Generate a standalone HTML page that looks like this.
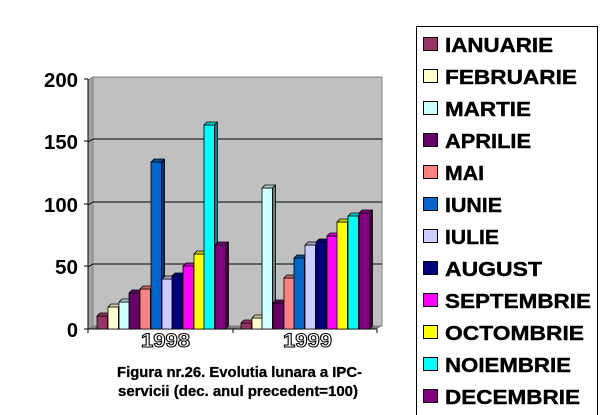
<!DOCTYPE html>
<html><head><meta charset="utf-8"><style>
html,body{margin:0;padding:0;background:#fff;}
svg{display:block;font-family:"Liberation Sans",Arial,sans-serif;}
</style></head><body>
<svg width="609" height="415" viewBox="0 0 609 415" xmlns="http://www.w3.org/2000/svg">
<polygon points="93,77 382,77 382,326 93,326" fill="#c0c0c0" stroke="#808080" stroke-width="1"/>
<polygon points="88,80 93,77 93,326 88,329" fill="#a0a0a0" stroke="#808080" stroke-width="1"/>
<polygon points="88,329 93,326 382,326 377,329" fill="#808080"/>
<g stroke="#000" stroke-width="1">
<line x1="93" y1="139" x2="382" y2="139"/><line x1="88" y1="142" x2="93" y2="139"/>
<line x1="93" y1="202" x2="382" y2="202"/><line x1="88" y1="205" x2="93" y2="202"/>
<line x1="93" y1="264" x2="382" y2="264"/><line x1="88" y1="267" x2="93" y2="264"/>
<line x1="88" y1="79" x2="88" y2="329"/>
<line x1="84" y1="79" x2="88" y2="79"/><line x1="84" y1="141" x2="88" y2="141"/>
<line x1="84" y1="204" x2="88" y2="204"/><line x1="84" y1="266" x2="88" y2="266"/>
<line x1="84" y1="329" x2="88" y2="329"/>
<line x1="88" y1="329" x2="377" y2="329"/>
<line x1="88" y1="329" x2="88" y2="333"/><line x1="233" y1="329" x2="233" y2="333"/><line x1="377" y1="329" x2="377" y2="333"/>
</g>
<g font-size="20" font-weight="bold" text-anchor="end">
<text x="78" y="87" textLength="34" lengthAdjust="spacingAndGlyphs">200</text>
<text x="78" y="149" textLength="34" lengthAdjust="spacingAndGlyphs">150</text>
<text x="78" y="212" textLength="34" lengthAdjust="spacingAndGlyphs">100</text>
<text x="78" y="274" textLength="23" lengthAdjust="spacingAndGlyphs">50</text>
<text x="78" y="337">0</text>
</g>
<g stroke="#000" stroke-width="0.8" stroke-linejoin="round">
<g fill="#993366"><rect x="97" y="316" width="10.5" height="13"/><polygon points="97,316 100,313 110.5,313 107.5,316"/><polygon points="107.5,316 110.5,313 110.5,326 107.5,329" fill="#4d1a33"/></g>
<g fill="#FFFFCC"><rect x="108" y="307" width="10.5" height="22"/><polygon points="108,307 111,304 121.5,304 118.5,307" fill="#cccca3"/><polygon points="118.5,307 121.5,304 121.5,326 118.5,329" fill="#808066"/></g>
<g fill="#CCFFFF"><rect x="119" y="302" width="10.5" height="27"/><polygon points="119,302 122,299 132.5,299 129.5,302" fill="#a3cccc"/><polygon points="129.5,302 132.5,299 132.5,326 129.5,329" fill="#668080"/></g>
<g fill="#660066"><rect x="129" y="293" width="10.5" height="36"/><polygon points="129,293 132,290 142.5,290 139.5,293"/><polygon points="139.5,293 142.5,290 142.5,326 139.5,329" fill="#330033"/></g>
<g fill="#FF8080"><rect x="140" y="289" width="10.5" height="40"/><polygon points="140,289 143,286 153.5,286 150.5,289" fill="#cc6666"/><polygon points="150.5,289 153.5,286 153.5,326 150.5,329" fill="#804040"/></g>
<g fill="#0066CC"><rect x="151" y="162" width="10.5" height="167"/><polygon points="151,162 154,159 164.5,159 161.5,162" fill="#0052a3"/><polygon points="161.5,162 164.5,159 164.5,326 161.5,329" fill="#003366"/></g>
<g fill="#CCCCFF"><rect x="162" y="279" width="10.5" height="50"/><polygon points="162,279 165,276 175.5,276 172.5,279" fill="#a3a3cc"/><polygon points="172.5,279 175.5,276 175.5,326 172.5,329" fill="#666680"/></g>
<g fill="#000080"><rect x="172" y="276" width="10.5" height="53"/><polygon points="172,276 175,273 185.5,273 182.5,276"/><polygon points="182.5,276 185.5,273 185.5,326 182.5,329" fill="#000040"/></g>
<g fill="#FF00FF"><rect x="183" y="266" width="10.5" height="63"/><polygon points="183,266 186,263 196.5,263 193.5,266" fill="#cc00cc"/><polygon points="193.5,266 196.5,263 196.5,326 193.5,329" fill="#800080"/></g>
<g fill="#FFFF00"><rect x="194" y="254" width="10.5" height="75"/><polygon points="194,254 197,251 207.5,251 204.5,254" fill="#cccc00"/><polygon points="204.5,254 207.5,251 207.5,326 204.5,329" fill="#808000"/></g>
<g fill="#00FFFF"><rect x="204" y="125" width="10.5" height="204"/><polygon points="204,125 207,122 217.5,122 214.5,125" fill="#00cccc"/><polygon points="214.5,125 217.5,122 217.5,326 214.5,329" fill="#008080"/></g>
<g fill="#800080"><rect x="215" y="245" width="10.5" height="84"/><polygon points="215,245 218,242 228.5,242 225.5,245"/><polygon points="225.5,245 228.5,242 228.5,326 225.5,329" fill="#400040"/></g>
<g fill="#993366"><rect x="241" y="323" width="10.5" height="6"/><polygon points="241,323 244,320 254.5,320 251.5,323"/><polygon points="251.5,323 254.5,320 254.5,326 251.5,329" fill="#4d1a33"/></g>
<g fill="#FFFFCC"><rect x="252" y="318" width="10.5" height="11"/><polygon points="252,318 255,315 265.5,315 262.5,318" fill="#cccca3"/><polygon points="262.5,318 265.5,315 265.5,326 262.5,329" fill="#808066"/></g>
<g fill="#CCFFFF"><rect x="262" y="188" width="10.5" height="141"/><polygon points="262,188 265,185 275.5,185 272.5,188" fill="#a3cccc"/><polygon points="272.5,188 275.5,185 275.5,326 272.5,329" fill="#668080"/></g>
<g fill="#660066"><rect x="273" y="303" width="10.5" height="26"/><polygon points="273,303 276,300 286.5,300 283.5,303"/><polygon points="283.5,303 286.5,300 286.5,326 283.5,329" fill="#330033"/></g>
<g fill="#FF8080"><rect x="284" y="278" width="10.5" height="51"/><polygon points="284,278 287,275 297.5,275 294.5,278" fill="#cc6666"/><polygon points="294.5,278 297.5,275 297.5,326 294.5,329" fill="#804040"/></g>
<g fill="#0066CC"><rect x="294" y="258" width="10.5" height="71"/><polygon points="294,258 297,255 307.5,255 304.5,258" fill="#0052a3"/><polygon points="304.5,258 307.5,255 307.5,326 304.5,329" fill="#003366"/></g>
<g fill="#CCCCFF"><rect x="305" y="245" width="10.5" height="84"/><polygon points="305,245 308,242 318.5,242 315.5,245" fill="#a3a3cc"/><polygon points="315.5,245 318.5,242 318.5,326 315.5,329" fill="#666680"/></g>
<g fill="#000080"><rect x="316" y="242" width="10.5" height="87"/><polygon points="316,242 319,239 329.5,239 326.5,242"/><polygon points="326.5,242 329.5,239 329.5,326 326.5,329" fill="#000040"/></g>
<g fill="#FF00FF"><rect x="327" y="236" width="10.5" height="93"/><polygon points="327,236 330,233 340.5,233 337.5,236" fill="#cc00cc"/><polygon points="337.5,236 340.5,233 340.5,326 337.5,329" fill="#800080"/></g>
<g fill="#FFFF00"><rect x="337" y="222" width="10.5" height="107"/><polygon points="337,222 340,219 350.5,219 347.5,222" fill="#cccc00"/><polygon points="347.5,222 350.5,219 350.5,326 347.5,329" fill="#808000"/></g>
<g fill="#00FFFF"><rect x="348" y="216" width="10.5" height="113"/><polygon points="348,216 351,213 361.5,213 358.5,216" fill="#00cccc"/><polygon points="358.5,216 361.5,213 361.5,326 358.5,329" fill="#008080"/></g>
<g fill="#800080"><rect x="359" y="213" width="10.5" height="116"/><polygon points="359,213 362,210 372.5,210 369.5,213"/><polygon points="369.5,213 372.5,210 372.5,326 369.5,329" fill="#400040"/></g>
</g>
<g font-size="19" font-weight="bold" fill="#fff" stroke="#000" stroke-width="1">
<text x="141" y="347" textLength="49" lengthAdjust="spacingAndGlyphs">1998</text>
<text x="283" y="347" textLength="49" lengthAdjust="spacingAndGlyphs">1999</text>
</g>
<g font-size="14.5" font-weight="bold" stroke="#000" stroke-width="0.3">
<text x="117" y="377" textLength="245" lengthAdjust="spacingAndGlyphs">Figura nr.26. Evolutia lunara a IPC-</text>
<text x="118" y="396" textLength="240" lengthAdjust="spacingAndGlyphs">servicii (dec. anul precedent=100)</text>
</g>
<rect x="416.5" y="26.5" width="181" height="395" fill="#fff" stroke="#000" stroke-width="1"/>
<g stroke="#000" stroke-width="1">
<rect x="423.5" y="37.5" width="14" height="13" fill="#993366"/>
<rect x="423.5" y="69.5" width="14" height="13" fill="#FFFFCC"/>
<rect x="423.5" y="101.5" width="14" height="13" fill="#CCFFFF"/>
<rect x="423.5" y="133.5" width="14" height="13" fill="#660066"/>
<rect x="423.5" y="165.5" width="14" height="13" fill="#FF8080"/>
<rect x="423.5" y="197.5" width="14" height="13" fill="#0066CC"/>
<rect x="423.5" y="229.5" width="14" height="13" fill="#CCCCFF"/>
<rect x="423.5" y="261.5" width="14" height="13" fill="#000080"/>
<rect x="423.5" y="293.5" width="14" height="13" fill="#FF00FF"/>
<rect x="423.5" y="325.5" width="14" height="13" fill="#FFFF00"/>
<rect x="423.5" y="357.5" width="14" height="13" fill="#00FFFF"/>
<rect x="423.5" y="389.5" width="14" height="13" fill="#800080"/>
</g>
<g font-size="20" font-weight="bold" stroke="#000" stroke-width="0.4">
<text x="445" y="52" textLength="108" lengthAdjust="spacingAndGlyphs">IANUARIE</text>
<text x="445" y="84" textLength="132" lengthAdjust="spacingAndGlyphs">FEBRUARIE</text>
<text x="445" y="116" textLength="86" lengthAdjust="spacingAndGlyphs">MARTIE</text>
<text x="445" y="148" textLength="86" lengthAdjust="spacingAndGlyphs">APRILIE</text>
<text x="445" y="180" textLength="39" lengthAdjust="spacingAndGlyphs">MAI</text>
<text x="445" y="212" textLength="57" lengthAdjust="spacingAndGlyphs">IUNIE</text>
<text x="445" y="244" textLength="54" lengthAdjust="spacingAndGlyphs">IULIE</text>
<text x="445" y="276" textLength="97" lengthAdjust="spacingAndGlyphs">AUGUST</text>
<text x="445" y="308" textLength="146" lengthAdjust="spacingAndGlyphs">SEPTEMBRIE</text>
<text x="445" y="340" textLength="139" lengthAdjust="spacingAndGlyphs">OCTOMBRIE</text>
<text x="445" y="372" textLength="126" lengthAdjust="spacingAndGlyphs">NOIEMBRIE</text>
<text x="445" y="404" textLength="135" lengthAdjust="spacingAndGlyphs">DECEMBRIE</text>
</g>
</svg>
</body></html>
